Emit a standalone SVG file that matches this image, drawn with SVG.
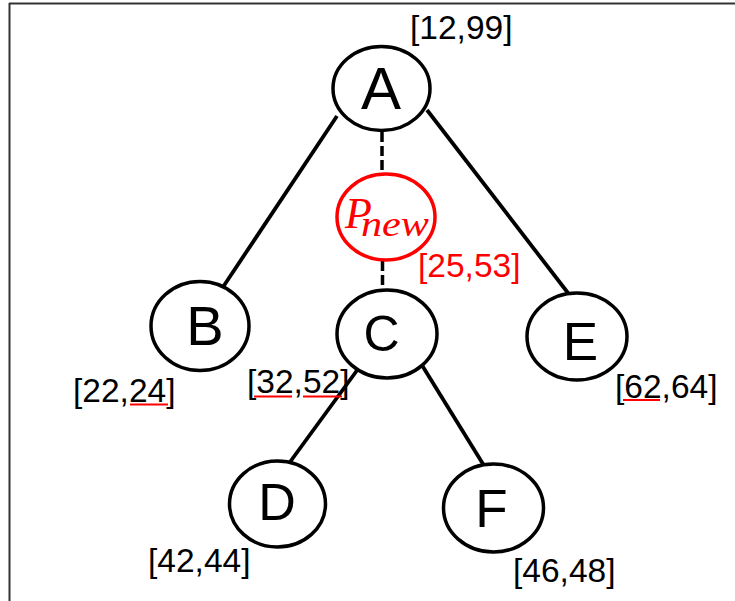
<svg xmlns="http://www.w3.org/2000/svg" width="735" height="601" viewBox="0 0 735 601">
<style>
.node{fill:#fff;stroke:#000;stroke-width:3.5}
.pnew{fill:#fff;stroke:#ff0000;stroke-width:3.5}
.edge{stroke:#000;stroke-width:3.8;fill:none}
.dash{stroke:#000;stroke-width:3.5;fill:none;stroke-dasharray:10 4}
.lbl{font-family:"Liberation Sans",Arial,sans-serif;font-size:60px;fill:#000;text-anchor:middle}
.num{font-family:"Liberation Sans",Arial,sans-serif;font-size:33.5px;fill:#000}
.red{fill:#ff0000}
.ul{stroke:#ff0000;stroke-width:2}
</style>
<rect width="735" height="601" fill="#fff"/>
<g id="frame">
<line x1="9" y1="3.5" x2="735" y2="3.5" stroke="#333" stroke-width="2"/>
<line x1="9.5" y1="3" x2="9.5" y2="601" stroke="#333" stroke-width="2"/>
</g>
<g id="connectors">
<line class="edge" x1="337" y1="116" x2="221" y2="290"/>
<line class="edge" x1="427" y1="110" x2="568" y2="293"/>
<line class="edge" x1="358" y1="369" x2="290" y2="462"/>
<line class="edge" x1="420" y1="362" x2="483" y2="464"/>
<line class="dash" x1="382" y1="132" x2="382" y2="176"/>
<line class="dash" x1="382.5" y1="261" x2="382.5" y2="292"/>
</g>
<g id="node-A">
<ellipse class="node" cx="381.5" cy="88.5" rx="48.5" ry="42"/>
<text class="lbl" x="381" y="109">A</text>
<text class="num" x="410" y="39">[12,99]</text>
</g>
<g id="node-Pnew">
<ellipse class="pnew" cx="386" cy="217" rx="49" ry="43"/>
<text x="345" y="228" font-family="'Liberation Serif','Times New Roman',serif" font-style="italic" font-size="44" fill="#ff0000">P<tspan dx="-11" dy="8" font-size="36" textLength="68" lengthAdjust="spacingAndGlyphs">new</tspan></text>
<text class="num red" x="418" y="277">[25,53]</text>
</g>
<g id="node-B">
<ellipse class="node" cx="200" cy="326" rx="49" ry="44.5"/>
<text class="lbl" x="205" y="345" style="font-size:56px">B</text>
<text class="num" x="73" y="402">[22,24]</text>
<line class="ul" x1="130" y1="404.5" x2="168" y2="404.5"/>
</g>
<g id="node-C">
<ellipse class="node" cx="387" cy="334" rx="50" ry="44"/>
<text class="lbl" x="381.5" y="351" style="font-size:50px">C</text>
<text class="num" x="247" y="393">[32,52]</text>
<line class="ul" x1="254" y1="396.5" x2="292" y2="396.5"/>
<line class="ul" x1="303" y1="396.5" x2="342" y2="396.5"/>
</g>
<g id="node-E">
<ellipse class="node" cx="577" cy="336.5" rx="50" ry="43.5"/>
<text class="lbl" x="580.5" y="360" style="font-size:53px">E</text>
<text class="num" x="615" y="398">[62,64]</text>
<line class="ul" x1="623" y1="400" x2="660" y2="400"/>
</g>
<g id="node-D">
<ellipse class="node" cx="277.5" cy="504" rx="48" ry="43"/>
<text class="lbl" x="277" y="520" style="font-size:52px">D</text>
<text class="num" x="148" y="572">[42,44]</text>
</g>
<g id="node-F">
<ellipse class="node" cx="493.5" cy="508" rx="50" ry="44"/>
<text class="lbl" x="491.5" y="527" style="font-size:53px">F</text>
<text class="num" x="513" y="582">[46,48]</text>
</g>
</svg>
